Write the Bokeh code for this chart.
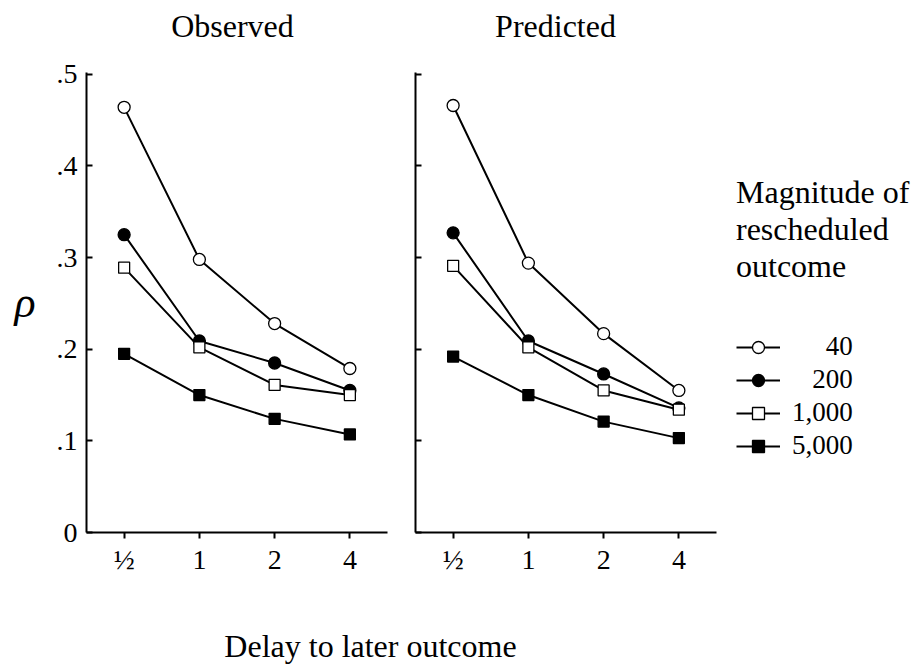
from bokeh.plotting import figure
from bokeh.models import FactorRange, Range1d, FixedTicker, Legend, LegendItem, Label
from bokeh.layouts import row, column
from bokeh.embed import file_html
from bokeh.resources import INLINE

# ---- data ----
delays = ["½", "1", "2", "4"]
magnitudes = ["40", "200", "1,000", "5,000"]
legend_labels = ["\u2007\u2007\u200840", "\u2007\u2008200", "1,000", "5,000"]
panel_titles = ["Observed", "Predicted"]

observed_40 = [0.464, 0.298, 0.228, 0.179]
observed_200 = [0.325, 0.209, 0.185, 0.155]
observed_1000 = [0.289, 0.202, 0.161, 0.150]
observed_5000 = [0.195, 0.150, 0.124, 0.107]

predicted_40 = [0.466, 0.294, 0.217, 0.155]
predicted_200 = [0.327, 0.209, 0.173, 0.136]
predicted_1000 = [0.291, 0.202, 0.155, 0.134]
predicted_5000 = [0.192, 0.150, 0.121, 0.103]

y_ticks = [0, 0.1, 0.2, 0.3, 0.4, 0.5]
y_tick_labels = ["0", ".1", ".2", ".3", ".4", ".5"]

FONT = "Liberation Serif"
marker_styles = [("circle", "white", 12), ("circle", "black", 12),
                 ("square", "white", 11), ("square", "black", 11)]

TOP_H = 50
ROW_H = 530


def blank(width, height):
    f = figure(width=width, height=height, x_range=Range1d(0, width), y_range=Range1d(0, height),
               x_axis_type=None, y_axis_type=None, toolbar_location=None, output_backend="svg",
               min_border=0, outline_line_color=None)
    f.grid.visible = False
    return f


def draw_series(p, series):
    rends = []
    for vals, (marker, fill, size) in zip(series, marker_styles):
        lr = p.line(delays, vals, line_color="black", line_width=2)
        sr = p.scatter(delays, vals, marker=marker, size=size, fill_color=fill,
                       line_color="black", line_width=1.3)
        rends.append((lr, sr))
    return rends


def make_panel(series, width, border_left, border_right, show_y_labels):
    p = figure(width=width, height=ROW_H, x_range=FactorRange(factors=delays, range_padding=0),
               y_range=Range1d(0, 0.502), toolbar_location=None, output_backend="svg",
               min_border_left=border_left, min_border_right=border_right,
               min_border_top=72 - TOP_H, min_border_bottom=48, outline_line_color=None)
    p.grid.visible = False
    for ax in (p.xaxis, p.yaxis):
        ax.axis_line_width = 2
        ax.major_tick_line_width = 2
        ax.minor_tick_line_color = None
        ax.major_label_text_font = FONT
        ax.major_label_text_font_size = "28px"
        ax.major_label_text_color = "black"
    p.xaxis.major_tick_in = 0
    p.xaxis.major_tick_out = 6
    p.xaxis.major_label_standoff = 5
    p.yaxis.major_tick_in = 6
    p.yaxis.major_tick_out = 0
    p.yaxis.ticker = FixedTicker(ticks=y_ticks)
    p.yaxis.major_label_standoff = 9
    if show_y_labels:
        p.yaxis.major_label_overrides = {t: l for t, l in zip(y_ticks, y_tick_labels)}
    else:
        p.yaxis.major_label_overrides = {t: "" for t in y_ticks}
        p.yaxis.major_label_standoff = 0
    draw_series(p, series)
    return p


# titles strip
p0 = blank(915, TOP_H)
for txt, xc in zip(panel_titles, [232, 555]):
    p0.add_layout(Label(x=xc, y=TOP_H - 25, text=txt, text_align="center", text_baseline="middle",
                        text_font=FONT, text_font_size="32px", text_color="black"))

predicted = [predicted_40, predicted_200, predicted_1000, predicted_5000]
p1 = make_panel([observed_40, observed_200, observed_1000, observed_5000], 400, 86, 13, True)
p1.yaxis.axis_label = "ρ"
p1.yaxis.axis_label_orientation = "horizontal"
p1.yaxis.axis_label_text_font = FONT
p1.yaxis.axis_label_text_font_style = "italic"
p1.yaxis.axis_label_text_font_size = "44px"
p1.yaxis.axis_label_text_color = "black"
p1.yaxis.axis_label_standoff = 18

p2 = make_panel(predicted, 330, 15, 14, False)

# legend strip: key renderers use the same series, but the strip's ranges keep them out of view
p4 = figure(width=185, height=ROW_H, x_range=FactorRange(factors=delays), y_range=Range1d(10, 11),
            x_axis_type=None, y_axis_type=None, toolbar_location=None, output_backend="svg",
            min_border=0, outline_line_color=None)
p4.grid.visible = False
key_rends = draw_series(p4, predicted)
items = [LegendItem(label=lbl, renderers=[lr, sr]) for lbl, (lr, sr) in zip(legend_labels, key_rends)]
legend = Legend(items=items, location=(6, 71), title="Magnitude of\nrescheduled\noutcome",
                title_text_font=FONT, title_text_font_size="32px", title_text_font_style="normal",
                title_text_color="black", title_text_line_height=1.35,
                title_standoff=46, label_text_font=FONT, label_text_font_size="27px",
                label_text_color="black",
                glyph_width=44, glyph_height=30, label_height=30, label_standoff=12,
                spacing=2, padding=0, margin=0, border_line_color=None,
                background_fill_alpha=0)
p4.add_layout(legend)

p3 = blank(915, 89)
p3.add_layout(Label(x=370, y=24, text="Delay to later outcome", text_align="center",
                    text_baseline="middle", text_font=FONT, text_font_size="32px",
                    text_color="black"))

layout = column(p0, row(p1, p2, p4), p3)
open("out.html", "w").write(file_html(layout, INLINE))
